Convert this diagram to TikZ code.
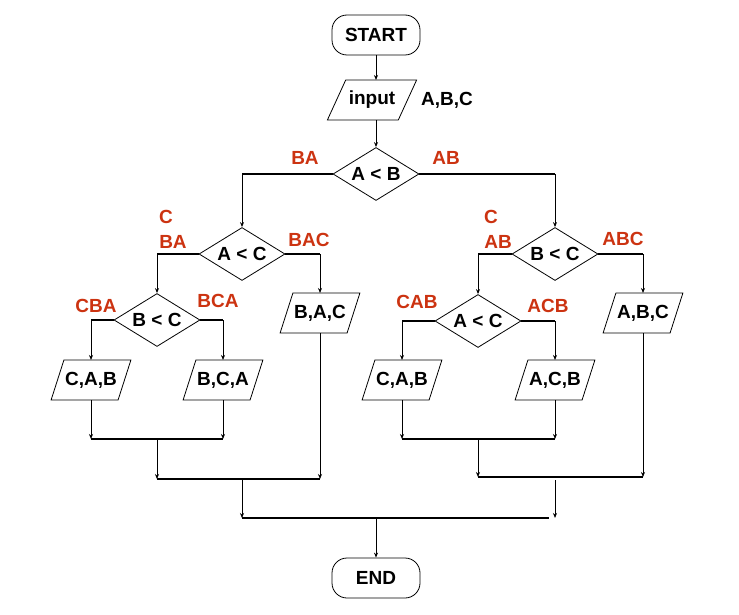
\documentclass[tikz,border=0pt]{standalone}
\usepackage{fontspec}
\setmainfont{Liberation Sans}
\usetikzlibrary{shapes.geometric,arrows.meta}
\definecolor{lab}{HTML}{CC3311}
\begin{document}
\begin{tikzpicture}[x=1pt,y=-1pt,
  every node/.style={font=\fontsize{19}{22}\selectfont\bfseries, text=black},
  term/.style={draw, rounded corners=15pt, minimum width=88pt, minimum height=40pt, inner sep=0pt, line width=0.8pt},
  dec/.style={draw, diamond, aspect=1.6, inner sep=0pt, minimum width=86pt, minimum height=53pt, line width=0.8pt},
  io/.style={draw, trapezium, trapezium left angle=73, trapezium right angle=107, trapezium stretches=true, text height=14pt, text depth=4pt, inner xsep=0pt, inner ysep=11pt, outer sep=0pt, minimum width=80pt, minimum height=40pt, line width=0.8pt},
  lbl/.style={text=lab, inner sep=0pt},
  arr/.style={line width=0.8pt, -{Stealth[length=5pt,width=4pt]}},
  ln/.style={line width=1.2pt}]
\useasboundingbox (0,0) rectangle (739,615);
% nodes
\node[term] (start) at (376,35) {START};
\node[io, trapezium left angle=68, trapezium right angle=112, minimum width=90pt] (input) at (372,100) {input};
\node[inner sep=0pt, anchor=west] (abc) at (421,100) {A,B,C};
\node[dec] (d1) at (376,174) {A < B};
\node[dec] (d2) at (242,254) {A < C};
\node[dec] (d3) at (555,254) {B < C};
\node[dec] (d4) at (157,320) {B < C};
\node[dec] (d5) at (478,321) {A < C};
\node[io] (p1) at (91,380) {C,A,B};
\node[io] (p2) at (223,380) {B,C,A};
\node[io] (p3) at (320,313) {B,A,C};
\node[io] (p4) at (402,380) {C,A,B};
\node[io] (p5) at (555,380) {A,C,B};
\node[io] (p6) at (643,313) {A,B,C};
\node[term] (end) at (376,578) {END};
% labels
\node[lbl] (lBA) at (305,158) {BA};
\node[lbl] (lAB) at (446,158) {AB};
\node[lbl] (lC1) at (166,217) {C};
\node[lbl] (lBA2) at (173,242) {BA};
\node[lbl] (lBAC) at (309,240) {BAC};
\node[lbl] (lC2) at (491,217) {C};
\node[lbl] (lAB2) at (498,242) {AB};
\node[lbl] (lABC) at (623,239) {ABC};
\node[lbl] (lCBA) at (96,306) {CBA};
\node[lbl] (lBCA) at (218,301) {BCA};
\node[lbl] (lCAB) at (417,302) {CAB};
\node[lbl] (lACB) at (548,306) {ACB};
% junction coordinates
\coordinate (jl1) at (157,439);
\coordinate (jr1) at (478,439);
\coordinate (jl2) at (242,479);
\coordinate (jr2) at (478,477);
\coordinate (jr2s) at (555,480);
\coordinate (jb) at (376,518);
% top connectors
\draw[arr] (start.south) -- (start.south |- input.north);
\draw[arr] (d1.north |- input.south) -- (d1.north);
\draw[ln] (d1.west) -- (d1.west -| d2.north);
\draw[arr] (d1.west -| d2.north) -- (d2.north);
\draw[ln] (d1.east) -- (d1.east -| d3.north);
\draw[arr] (d1.east -| d3.north) -- (d3.north);
\draw[ln] (d2.west) -- (d2.west -| d4.north);
\draw[arr] (d2.west -| d4.north) -- (d4.north);
\draw[ln] (d2.east) -- (d2.east -| p3.north);
\draw[arr] (d2.east -| p3.north) -- (p3.north);
\draw[ln] (d4.west) -- (d4.west -| p1.north);
\draw[arr] (d4.west -| p1.north) -- (p1.north);
\draw[ln] (d4.east) -- (d4.east -| p2.north);
\draw[arr] (d4.east -| p2.north) -- (p2.north);
\draw[ln] (d3.west) -- (d3.west -| d5.north);
\draw[arr] (d3.west -| d5.north) -- (d5.north);
\draw[ln] (d3.east) -- (d3.east -| p6.north);
\draw[arr] (d3.east -| p6.north) -- (p6.north);
\draw[ln] (d5.west) -- (d5.west -| p4.north);
\draw[arr] (d5.west -| p4.north) -- (p4.north);
\draw[ln] (d5.east) -- (d5.east -| p5.north);
\draw[arr] (d5.east -| p5.north) -- (p5.north);
% bottom merges, left
\draw[arr] (p1.south) -- (p1.south |- jl1);
\draw[arr] (p2.south) -- (p2.south |- jl1);
\draw[ln] (p1.south |- jl1) -- (p2.south |- jl1);
\draw[arr] (jl1) -- (jl1 |- jl2);
\draw[arr] (p3.south) -- (p3.south |- jl2);
\draw[ln] (jl1 |- jl2) -- (p3.south |- jl2);
% bottom merges, right
\draw[arr] (p4.south) -- (p4.south |- jr1);
\draw[arr] (p5.south) -- (p5.south |- jr1);
\draw[ln] (p4.south |- jr1) -- (p5.south |- jr1);
\draw[arr] (jr1) -- (jr2);
\draw[arr] (p6.south) -- (p6.south |- jr2);
\draw[ln] (jr2) -- (p6.south |- jr2);
% final
\draw[arr] (jl2) -- (jl2 |- jb);
\draw[arr] (jr2s) -- (jr2s |- jb);
\draw[ln] (jl2 |- jb) -- ([xshift=-6pt]jr2s |- jb);
\draw[arr] (jb) -- (end.north);
\end{tikzpicture}
\end{document}
